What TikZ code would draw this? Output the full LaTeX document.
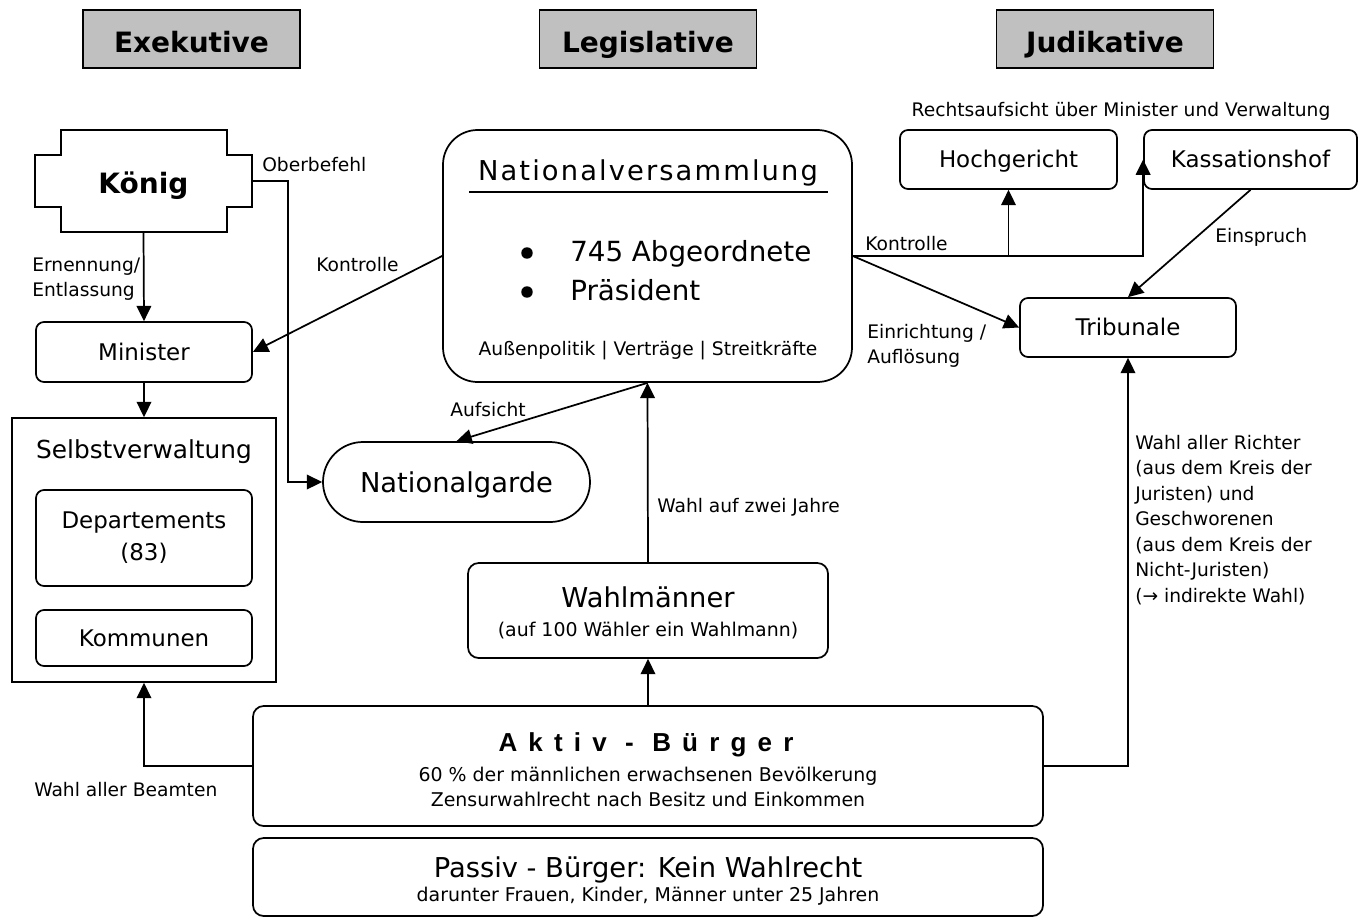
\documentclass[tikz,border=0pt]{standalone}
\usepackage{fontspec}
\setmainfont{DejaVu Sans}
\newfontfamily\aktivfont{Liberation Sans}[LetterSpace=43]
\newfontfamily\nvfont{DejaVu Sans}[LetterSpace=7.7]
\usetikzlibrary{arrows.meta}
\definecolor{titlegray}{RGB}{192,192,192}
\tikzset{
  ln/.style={line width=1.3pt},
  arr/.style={line width=1.3pt, -{Triangle[length=11.5pt,width=11pt]}},
  titlebox/.style={draw, line width=1.3pt, fill=titlegray, inner sep=0pt,
    minimum width=162.75pt, minimum height=43.5pt, text height=20.5pt, text depth=0pt,
    font=\fontsize{21}{25}\selectfont\bfseries},
  rbox/.style={draw, line width=1.3pt, rounded corners=6pt, inner sep=0pt, align=center},
  capc/.style={text height=#1, text depth=0pt},
  boxtxt/.style={font=\fontsize{17.2}{21}\selectfont, capc=12.5pt},
  lbl/.style={inner sep=0pt, font=\fontsize{14}{18.75}\selectfont},
  txt/.style={inner sep=0pt}
}
\begin{document}
\begin{tikzpicture}[x=0.75pt,y=-0.75pt]
\useasboundingbox (0,0) rectangle (1363,918);

% titles
\node[titlebox] (exe) at (191.5,39) {Exekutive};
\node[titlebox] (leg) at (648,39) {Legislative};
\node[titlebox] (jud) at (1105,39) {Judikative};

% Koenig
\draw[ln] (61,130) -- (227,130) -- (227,155) -- (252,155) -- (252,207) -- (227,207)
  -- (227,232) -- (61,232) -- (61,207) -- (35,207) -- (35,155) -- (61,155) -- cycle;
\node[inner sep=0pt, minimum width=162.75pt, minimum height=76.5pt, text height=18.3pt, text depth=0pt,
  font=\fontsize{21}{25}\selectfont\bfseries] (koenig) at (143.5,181) {König};

% Minister
\node[rbox, boxtxt, minimum width=162pt, minimum height=45pt] (minister) at (144,352) {Minister};

% Selbstverwaltung
\node[draw, line width=1.3pt, inner sep=0pt, minimum width=198pt, minimum height=198pt] (selbst) at (144,550) {};
\node[txt, capc=13.6pt, font=\fontsize{18.6}{22}\selectfont] (selbsttitle) at (144,449) {Selbstverwaltung};
\node[rbox, minimum width=162pt, minimum height=72pt, font=\fontsize{17.2}{24}\selectfont] (dep) at (144,538) {Departements\\(83)};
\node[rbox, boxtxt, minimum width=162pt, minimum height=42pt] (komm) at (144,638) {Kommunen};

% Nationalgarde
\node[draw, line width=1.3pt, rounded corners=30pt, inner sep=0pt, minimum width=200.25pt,
  minimum height=60pt, capc=15pt, font=\fontsize{20.5}{24}\selectfont] (garde) at (456.5,482) {Nationalgarde};

% Nationalversammlung
\node[draw, line width=1.3pt, rounded corners=26pt, inner sep=0pt, minimum width=306.75pt,
  minimum height=189pt] (nv) at (647.5,256) {};
\node[txt, capc=15pt, font=\nvfont\fontsize{20.5}{24}\selectfont] (nvtitle) at (648,170) {Nationalversammlung};
\draw[ln] (469,192) -- (828,192);
\fill (527,253) circle (4.3pt);
\fill (527,292) circle (4.3pt);
\node[txt, anchor=west, capc=15.2pt, font=\fontsize{20.8}{24}\selectfont] (abg) at (570,251.5) {745 Abgeordnete};
\node[txt, anchor=west, capc=15.2pt, font=\fontsize{20.8}{24}\selectfont] (praes) at (570,290) {Präsident};
\node[txt, capc=10.2pt, font=\fontsize{14}{17}\selectfont] (nvsub) at (648,348.5) {Außenpolitik | Verträge | Streitkräfte};

% Wahlmaenner
\node[rbox, minimum width=270pt, minimum height=71.25pt, rounded corners=8pt] (wahl) at (648,610.5) {};
\node[txt, capc=15pt, font=\fontsize{20.5}{24}\selectfont] (wahltitle) at (648,597) {Wahlmänner};
\node[txt, capc=10.4pt, font=\fontsize{14.2}{16}\selectfont] (wahlsub) at (648,630) {(auf 100 Wähler ein Wahlmann)};

% Aktiv / Passiv
\node[rbox, minimum width=592.5pt, minimum height=90pt, rounded corners=8pt] (aktiv) at (648,766) {};
\node[txt, capc=14pt, font=\aktivfont\fontsize{19.5}{23}\selectfont\bfseries] (aktivtitle) at (646,742) {Aktiv - Bürger};
\node[txt, capc=10.4pt, font=\fontsize{14.2}{16}\selectfont] (aktiv1) at (648,775) {60 \% der männlichen erwachsenen Bevölkerung};
\node[txt, capc=10.4pt, font=\fontsize{14.2}{16}\selectfont] (aktiv2) at (648,800) {Zensurwahlrecht nach Besitz und Einkommen};
\node[rbox, minimum width=592.5pt, minimum height=58.5pt, rounded corners=8pt] (passiv) at (648,877) {};
\node[txt, capc=15pt, font=\fontsize{20.5}{24}\selectfont] (passiv1) at (648,867) {Passiv - Bürger: Kein Wahlrecht};
\node[txt, capc=10.4pt, font=\fontsize{14.2}{16}\selectfont] (passiv2) at (648,895) {darunter Frauen, Kinder, Männer unter 25 Jahren};

% Judikative boxes
\node[rbox, boxtxt, minimum width=162.75pt, minimum height=44.25pt] (hoch) at (1008.5,159.5) {Hochgericht};
\node[rbox, boxtxt, minimum width=159.75pt, minimum height=44.25pt] (kass) at (1250.5,159.5) {Kassationshof};
\node[rbox, boxtxt, minimum width=162pt, minimum height=44.25pt] (trib) at (1128,327.5) {Tribunale};
\node[lbl, capc=10.2pt] (rechts) at (1121,110) {Rechtsaufsicht über Minister und Verwaltung};

% connectors
\draw[arr] (koenig.south) -- (minister.north);
\draw[arr] (minister.south) -- (selbst.north);
\coordinate (ob1) at (288,181);
\draw[arr] (koenig.east) -- (ob1) |- (garde.west);
\draw[arr] (nv.west) -- (minister.east);
\draw[arr] (nv.south) -- (garde.north);
\draw[arr] (wahl.north) -- (nv.south);
\draw[arr] (aktiv.north) -- (wahl.south);
\draw[arr] (aktiv.west) -| (selbst.south);
\draw[arr] (aktiv.east) -| (trib.south);
\draw[arr] (nv.east) -| (kass.west);
\coordinate (hk) at (hoch.south |- nv.east);
\draw[arr] (hk) -- (hoch.south);
\draw[arr] (nv.east) -- (trib.west);
\draw[arr] (kass.south) -- (trib.north);

% labels
\node[lbl, anchor=west, capc=10.2pt] (lob) at (262,164.5) {Oberbefehl};
\node[lbl, anchor=west, align=left] (lern) at (32,279.5) {Ernennung/\\Entlassung};
\node[lbl, anchor=west, capc=10.2pt] (lkon1) at (316,265) {Kontrolle};
\node[lbl, anchor=west, capc=10.2pt] (lauf) at (450,410) {Aufsicht};
\node[lbl, anchor=west, capc=10.2pt] (lwahl) at (657,506) {Wahl auf zwei Jahre};
\node[lbl, anchor=west, capc=10.2pt] (lkon2) at (865,243.5) {Kontrolle};
\node[lbl, anchor=west, align=left] (lein) at (867,345.5) {Einrichtung /\\Auflösung};
\node[lbl, anchor=west, capc=10.2pt] (lspr) at (1215,236) {Einspruch};
\node[lbl, anchor=west, capc=10.2pt] (lbeam) at (34,790) {Wahl aller Beamten};
\node[lbl, anchor=west, align=left, font=\fontsize{14}{19.1}\selectfont] (lricht) at (1135,520)
  {Wahl aller Richter\\(aus dem Kreis der\\Juristen) und\\Geschworenen\\(aus dem Kreis der\\Nicht-Juristen)\\(→ indirekte Wahl)};
\end{tikzpicture}
\end{document}
